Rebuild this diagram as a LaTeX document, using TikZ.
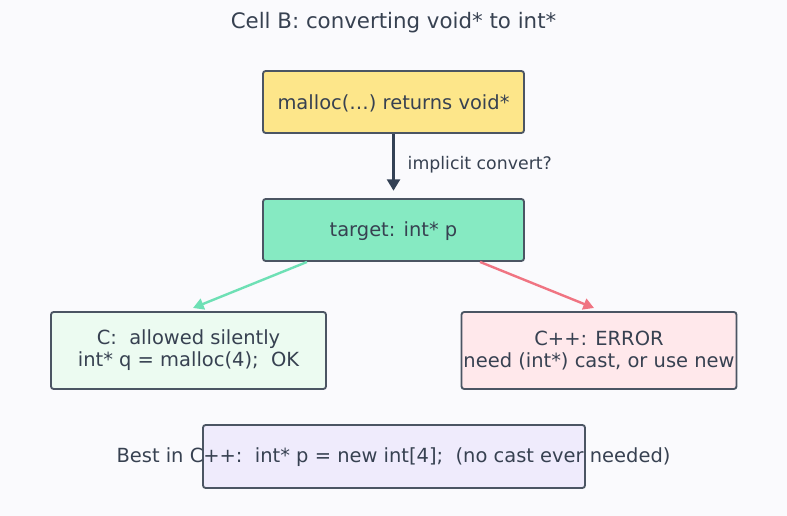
\documentclass[tikz,border=0pt]{standalone}
\usepackage{fontspec}
\setmainfont{DejaVu Sans}
\usetikzlibrary{arrows.meta,positioning}
\definecolor{cellbg}{HTML}{FAFAFD}
\definecolor{cellink}{HTML}{374151}
\definecolor{cellline}{HTML}{4B5563}
\definecolor{cellarrow}{HTML}{334155}
\definecolor{cellyellow}{HTML}{FDE68A}
\definecolor{cellmint}{HTML}{86EAC2}
\definecolor{cellmintfill}{HTML}{ECFBF1}
\definecolor{cellminted}{HTML}{6EE0B5}
\definecolor{cellrose}{HTML}{F07482}
\definecolor{cellrosefill}{HTML}{FFE8EB}
\definecolor{celllilac}{HTML}{EFEBFC}
\tikzset{
  celltitle/.style={font=\fontsize{16}{19}\selectfont, text=cellink},
  cellmini/.style={font=\fontsize{13}{15}\selectfont, text=cellink},
  cellbox/.style={draw=cellline, rounded corners=2pt, line width=1.4pt,
    font=\fontsize{14.6}{16.5}\selectfont, text=cellink, align=center,
    inner sep=0pt},
  celltext/.style={font=\fontsize{14.6}{16.5}\selectfont, text=cellink},
  darkflow/.style={-{Triangle[length=3mm,width=3.4mm]}, draw=cellarrow, line width=2pt},
  mintflow/.style={-{Triangle[length=2.8mm,width=3mm]}, draw=cellminted, line width=1.8pt},
  roseflow/.style={-{Triangle[length=2.8mm,width=3mm]}, draw=cellrose, line width=1.8pt}
}

\begin{document}
\begin{tikzpicture}[x=.75pt,y=-.75pt]
  \fill[cellbg] (0,0) rectangle (787,516);
  \useasboundingbox (0,0) rectangle (787,516);
  \node[celltitle] (title) at (393.5,23) {Cell B: converting void* to int*};

  \node[cellbox, fill=cellyellow, minimum width=195.75pt, minimum height=46.5pt]
    (source) at (393.5,102) {};
  \node[celltext] (sourcetext) at (393.5,103.5) {malloc(…) returns void*};
  \node[cellbox, fill=cellmint, minimum width=195.75pt, minimum height=46.5pt]
    (target) at (393.5,230) {};
  \node[celltext] (targettext) at (393.5,231.5) {target: int* p};
  \node[cellbox, fill=cellmintfill, minimum width=206.25pt, minimum height=57.75pt]
    (cside) at (188.5,350.5) {C:\ \ allowed silently\\int* q = malloc(4);\ \ OK};
  \node[cellbox, fill=cellrosefill, minimum width=206.25pt, minimum height=57.75pt]
    (cppside) at (599,350.5) {C++: ERROR\\need (int*) cast, or use new};
  \node[cellbox, fill=celllilac, minimum width=286.5pt, minimum height=47.25pt]
    (best) at (394,456.5) {};
  \node[celltext] (besttext) at (393.5,457)
    {Best in C++:\ \ int* p = new int[4];\ \ (no cast ever needed)};

  \draw[darkflow, shorten >=5.5pt] (source) -- (target);
  \node[cellmini, anchor=west] (convlabel) at (403,165) {implicit convert?};
  \draw[mintflow] (target.south -| 307,0) -- (193,308);
  \draw[roseflow] (target.south -| 480,0) -- (594,308);
\end{tikzpicture}
\end{document}
